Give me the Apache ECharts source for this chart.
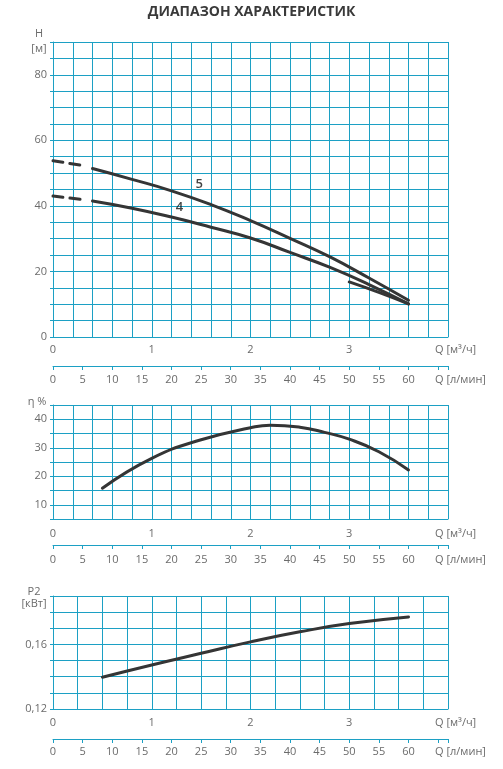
<!DOCTYPE html>
<html>
<head>
<meta charset="utf-8">
<title>Диапазон характеристик</title>
<script src="https://cdn.jsdelivr.net/npm/echarts@6/dist/echarts.min.js"></script>
<style>
  html, body { margin: 0; padding: 0; background: #fff; }
  #chart { width: 503px; height: 769px; }
</style>
</head>
<body>
<div id="chart"></div>
<script>
'use strict';

/*
 * Pump curves: head, efficiency and shaft power vs flow
 */

// head curve "5", Q in m3/h, H in m
const head5Q = [0.4, 0.8, 1.2, 1.6, 2.0, 2.4, 2.8, 3.2, 3.6];
const head5H = [51.4, 48.1, 44.6, 40.4, 35.5, 30.1, 24.5, 18.0, 11.2];
const head5DashQ = [0, 0.28];
const head5DashH = [53.8, 52.4];

// head curve "4"
const head4Q = [0.4, 0.8, 1.2, 1.6, 2.0, 2.4, 2.8, 3.2, 3.6];
const head4H = [41.5, 39.3, 36.6, 33.5, 30.2, 25.8, 21.3, 16.0, 10.1];
const head4DashQ = [0, 0.28];
const head4DashH = [43.0, 42.0];

// short extra branch near the end of the curves
const branchQ = [3.0, 3.3, 3.6];
const branchH = [16.8, 13.6, 10.1];

// curve captions
const captionText = ['5', '4'];
const captionQ = [1.48, 1.28];
const captionH = [46.6, 39.5];

// efficiency, %
const etaQ = [0.5, 1.0, 1.5, 2.0, 2.2, 2.5, 2.75, 3.0, 3.3, 3.6];
const etaV = [15.8, 26.3, 32.8, 37.0, 37.9, 37.2, 35.4, 33.0, 28.6, 22.2];

// shaft power P2, kW
const powerQ = [0.5, 1.0, 1.5, 2.0, 2.5, 3.0, 3.6];
const powerV = [0.1397, 0.1473, 0.1545, 0.1616, 0.1678, 0.1729, 0.1770];

// tick labels shown on the axes
const headTicks = [0, 20, 40, 60, 80];
const etaTicks = [10, 20, 30, 40];
const powerTicks = [0.12, 0.16];

const GRID = '#1ca0c4';
const TXT = '#6b6b6b';
const CURVE = '#353535';
const FONT = 'Open Sans';

const zip = (xs, ys) => xs.map((x, i) => [x, ys[i]]);
const near = (a, b) => Math.abs(a - b) < 1e-6;
const isInt = v => near(v, Math.round(v));

/**
 * Flow axis in m3/h (with the grid's vertical lines)
 */
const flowAxis = (gridIndex, step, margin) => ({
    type: 'value', gridIndex, min: 0, max: 4, interval: step, position: 'bottom',
    axisLine: { show: true, onZero: false, lineStyle: { color: GRID, width: 1 } },
    axisTick: { show: false },
    splitLine: { show: true, lineStyle: { color: GRID, width: 1 } },
    axisLabel: {
        color: TXT, fontSize: 11, fontFamily: FONT, margin,
        formatter: v => (isInt(v) && v < 3.5 ? String(Math.round(v)) : '')
    },
    name: 'Q [м³/ч]', nameLocation: 'end', nameGap: -13,
    nameTextStyle: { color: TXT, fontSize: 11, fontFamily: FONT, align: 'left', verticalAlign: 'top', padding: [margin, 0, 0, 0] }
});

/**
 * Flow axis in l/min, drawn below the m3/h one
 */
const litreAxis = (gridIndex, offset, margin) => ({
    type: 'value', gridIndex, min: 0, max: 4000 / 60, interval: 5, position: 'bottom', offset,
    axisLine: { show: true, onZero: false, lineStyle: { color: GRID, width: 1 } },
    axisTick: { show: true, length: 4, lineStyle: { color: GRID } },
    splitLine: { show: false },
    axisLabel: {
        color: TXT, fontSize: 11, fontFamily: FONT, margin,
        formatter: v => (isInt(v) && v <= 60 ? String(Math.round(v)) : '')
    },
    name: 'Q [л/мин]', nameLocation: 'end', nameGap: -13,
    nameTextStyle: { color: TXT, fontSize: 11, fontFamily: FONT, align: 'left', verticalAlign: 'top', padding: [margin, 0, 0, 0] }
});

const valueAxis = (gridIndex, min, max, step, ticks, fmt, name, nameGap, lineHeight, shift) => ({
    type: 'value', gridIndex, min, max, interval: step,
    axisLine: { show: true, lineStyle: { color: GRID, width: 1 } },
    axisTick: { show: true, length: 3, lineStyle: { color: GRID } },
    splitLine: { show: true, lineStyle: { color: GRID, width: 1 } },
    axisLabel: {
        color: TXT, fontSize: 11, fontFamily: FONT, margin: 6,
        formatter: v => (ticks.some(t => near(t, v)) ? fmt(v) : '')
    },
    name, nameLocation: 'end', nameGap,
    nameTextStyle: {
        color: TXT, fontSize: 11, fontFamily: FONT, lineHeight,
        align: 'center', verticalAlign: 'middle', padding: [0, shift * 2, 0, 0]
    }
});

const curve = (data, xAxisIndex, yAxisIndex, dashed) => ({
    type: 'line', xAxisIndex, yAxisIndex, data, smooth: 0.5,
    symbol: 'none', silent: true,
    lineStyle: { color: CURVE, width: 3, type: dashed ? [10, 7] : 'solid', cap: 'round' }
});

const chart = echarts.init(document.getElementById('chart'));

chart.setOption({
    animation: false,
    backgroundColor: '#fff',
    title: {
        text: 'ДИАПАЗОН ХАРАКТЕРИСТИК', left: 'center', top: 0,
        textStyle: { color: '#3a3a3a', fontSize: 14, fontWeight: 'bold', fontFamily: FONT }
    },
    grid: [
        { left: 53, right: 55, top: 42, height: 295 },
        { left: 53, right: 55, top: 405, height: 114 },
        { left: 53, right: 55, top: 596, height: 113 }
    ],
    xAxis: [
        flowAxis(0, 0.2, 7), litreAxis(0, 29, 8),
        flowAxis(1, 0.2, 9), litreAxis(1, 26, 9),
        flowAxis(2, 0.25, 8), litreAxis(2, 30, 7)
    ],
    yAxis: [
        valueAxis(0, 0, 90, 5, headTicks, v => String(Math.round(v)), 'H\n[м]', 1, 15, 14),
        valueAxis(1, 5, 45, 5, etaTicks, v => String(Math.round(v)), 'η %', 3, 14, 16),
        valueAxis(2, 0.12, 0.19, 0.01, powerTicks, v => v.toFixed(2).replace('.', ','), 'P2\n[кВт]', -2, 12, 19)
    ],
    series: [
        curve(zip(head5Q, head5H), 0, 0, false),
        curve(zip(head5DashQ, head5DashH), 0, 0, true),
        curve(zip(head4Q, head4H), 0, 0, false),
        curve(zip(head4DashQ, head4DashH), 0, 0, true),
        curve(zip(branchQ, branchH), 0, 0, false),
        {
            type: 'scatter', xAxisIndex: 0, yAxisIndex: 0, symbolSize: 0, silent: true,
            data: captionText.map((t, i) => ({ value: [captionQ[i], captionH[i]], name: t })),
            label: {
                show: true, position: 'inside', formatter: p => p.name,
                color: '#111', fontSize: 13, fontWeight: 600, fontFamily: FONT
            }
        },
        curve(zip(etaQ, etaV), 2, 1, false),
        curve(zip(powerQ, powerV), 4, 2, false)
    ]
});
</script>
</body>
</html>
